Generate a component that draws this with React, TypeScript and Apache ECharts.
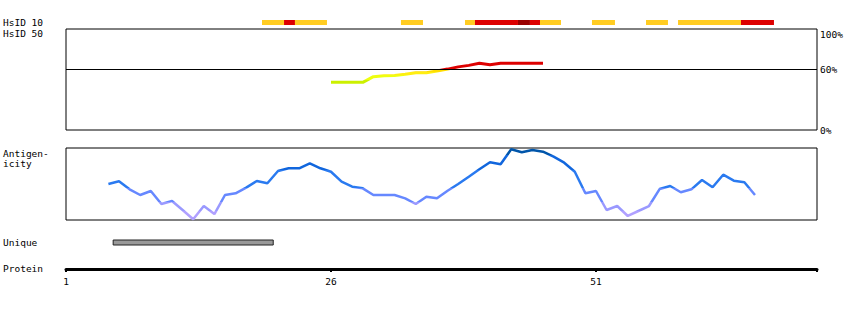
import React, { useEffect, useRef } from 'react';
import * as echarts from 'echarts';

// Protein axis
const proteinTicks = [1, 26, 51];
const xMin = 1;
const xMax = 71.85;

// HsID 10 segments (residue start, residue end, level: 0 yellow, 1 red, 2 dark red)
const hsid10Start = [19.49, 21.57, 22.6, 32.6, 38.64, 39.58, 43.64, 44.77, 45.72, 50.62, 55.72, 58.74, 64.68];
const hsid10End = [21.57, 22.6, 25.62, 34.68, 39.58, 43.64, 44.77, 45.72, 47.7, 52.79, 57.79, 64.68, 67.79];
const hsid10Level = [0, 1, 0, 0, 0, 1, 2, 1, 0, 0, 0, 0, 1];
const levelColors = ['#ffcc22', '#dd0000', '#990000'];

// HsID 50 identity (%)
const hsid50Residues = [26, 27, 28, 29, 30, 31, 32, 33, 34, 35, 36, 37, 38, 39, 40, 41, 42, 43, 44, 45, 46];
const hsid50Values = [47.2, 47.2, 47.2, 47.2, 52.8, 53.8, 54, 55.1, 56.7, 56.7, 58.4, 60.3, 62.5, 64, 66, 64.5, 66, 66, 66, 66, 66];
const hsid50Ticks = [0, 60, 100];

// Antigenicity
const antiStart = 5;
const antiValues = [
  50, 53.8, 42.6, 34.7, 40.3, 22.2, 26.4, 13.9, 1, 19.4,
  8.3, 34.7, 37, 44.9, 54.2, 51, 68, 71.8, 71.8, 78.8,
  71.8, 67, 53.2, 46.2, 44, 34.7, 34.7, 34.7, 30.1, 22.2,
  32.4, 30.1, 40.7, 50, 60.1, 70.4, 80.1, 77.4, 98.2, 94,
  97.2, 94.9, 87.9, 79.6, 67.1, 37.1, 40.3, 13.9, 19.4, 5.6,
  12.5, 19.4, 43, 47.2, 38.5, 42.6, 55.6, 45.4, 62.9, 54.6,
  52.4, 34.7,
];

// Unique region
const uniqueStart = [5.45];
const uniqueEnd = [20.55];

const FONT = 'DejaVu Sans Mono';

export default function App() {
  const ref = useRef<HTMLDivElement>(null);
  useEffect(() => {
    document.body.style.margin = '0';
    const chart = echarts.init(ref.current!, null, { renderer: 'svg' });

    const hsid10Data = hsid10Start.map((s, i) => [s, hsid10End[i], hsid10Level[i]]);
    const uniqueData = uniqueStart.map((s, i) => [s, uniqueEnd[i]]);
    const hsid50Data = hsid50Residues.map((r, i) => [r, hsid50Values[i]]);
    const antiData = antiValues.map((v, i) => [antiStart + i, v]);

    const gridBase = { left: 66, width: 751 };
    const hiddenX = (gi: number) => ({ type: 'value', gridIndex: gi, min: xMin, max: xMax, show: false });
    const hiddenY = (gi: number, max: number) => ({ type: 'value', gridIndex: gi, min: 0, max, show: false });

    const leftLabel = (text: string, y: number) => ({
      type: 'text',
      left: 3,
      top: y,
      style: { text, font: `9.5px "${FONT}"`, fill: '#000' },
    });

    chart.setOption({
      animation: false,
      grid: [
        { ...gridBase, top: 20, height: 5 },
        { ...gridBase, top: 29, height: 101, show: true, borderColor: '#000', borderWidth: 1, backgroundColor: 'transparent' },
        { ...gridBase, top: 148, height: 72, show: true, borderColor: '#000', borderWidth: 1, backgroundColor: 'transparent' },
        { ...gridBase, top: 240, height: 5 },
        { ...gridBase, top: 260, height: 9 },
      ],
      xAxis: [
        hiddenX(0),
        hiddenX(1),
        hiddenX(2),
        hiddenX(3),
        {
          type: 'value',
          gridIndex: 4,
          min: xMin,
          max: xMax,
          position: 'bottom',
          axisLine: { show: true, lineStyle: { color: '#000', width: 3 } },
          axisTick: { show: true, customValues: [...proteinTicks, xMax], length: 3, lineStyle: { color: '#000', width: 2 } },
          axisLabel: { customValues: proteinTicks, fontFamily: FONT, fontSize: 9.5, color: '#000', margin: 7 },
          splitLine: { show: false },
        },
      ],
      yAxis: [
        hiddenY(0, 1),
        {
          type: 'value',
          gridIndex: 1,
          min: 0,
          max: 100,
          position: 'right',
          axisLine: { show: false },
          axisTick: { show: false },
          splitLine: { show: false },
          axisLabel: {
            customValues: hsid50Ticks,
            formatter: '{value}%',
            fontFamily: FONT,
            fontSize: 9.5,
            color: '#000',
            margin: 3,
            verticalAlignMaxLabel: 'top',
          },
        },
        hiddenY(2, 100),
        hiddenY(3, 1),
        hiddenY(4, 1),
      ],
      visualMap: [
        {
          type: 'piecewise',
          show: false,
          seriesIndex: 1,
          dimension: 1,
          pieces: [
            { lt: 50, color: '#ccf000' },
            { gte: 50, lt: 54, color: '#eeff10' },
            { gte: 54, lt: 57, color: '#ffee10' },
            { gte: 57, lt: 60, color: '#ffdd00' },
            { gte: 60, color: '#dd0000' },
          ],
        },
        {
          type: 'piecewise',
          show: false,
          seriesIndex: 2,
          dimension: 1,
          pieces: [
            { lt: 12, color: '#b0a0ff' },
            { gte: 12, lt: 25, color: '#9a99ff' },
            { gte: 25, lt: 45, color: '#6688ff' },
            { gte: 45, lt: 70, color: '#2a7af0' },
            { gte: 70, lt: 90, color: '#1166dd' },
            { gte: 90, color: '#0055aa' },
          ],
        },
      ],
      series: [
        {
          type: 'custom',
          xAxisIndex: 0,
          yAxisIndex: 0,
          data: hsid10Data,
          renderItem: (params: any, api: any) => {
            const p0 = api.coord([api.value(0), 1]);
            const p1 = api.coord([api.value(1), 0]);
            return {
              type: 'rect',
              shape: { x: p0[0], y: p0[1], width: p1[0] - p0[0], height: p1[1] - p0[1] },
              style: { fill: levelColors[api.value(2)] },
            };
          },
        },
        {
          type: 'line',
          xAxisIndex: 1,
          yAxisIndex: 1,
          data: hsid50Data,
          symbol: 'none',
          lineStyle: { width: 3 },
          markLine: {
            silent: true,
            symbol: 'none',
            label: { show: false },
            lineStyle: { color: '#000', width: 1, type: 'solid' },
            data: [{ yAxis: 60 }],
          },
        },
        {
          type: 'line',
          xAxisIndex: 2,
          yAxisIndex: 2,
          data: antiData,
          symbol: 'none',
          lineStyle: { width: 2.5 },
        },
        {
          type: 'custom',
          xAxisIndex: 3,
          yAxisIndex: 3,
          data: uniqueData,
          renderItem: (params: any, api: any) => {
            const p0 = api.coord([api.value(0), 1]);
            const p1 = api.coord([api.value(1), 0]);
            return {
              type: 'rect',
              shape: { x: p0[0], y: p0[1], width: p1[0] - p0[0], height: p1[1] - p0[1] },
              style: { fill: '#999999', stroke: '#222', lineWidth: 1 },
            };
          },
        },
      ],
      graphic: [
        leftLabel('HsID 10', 17),
        leftLabel('HsID 50', 28),
        leftLabel('Antigen-', 148),
        leftLabel('icity', 158),
        leftLabel('Unique', 237),
        leftLabel('Protein', 263),
      ],
    });
    return () => chart.dispose();
  }, []);
  return <div ref={ref} style={{ width: 850, height: 310 }} />;
}
